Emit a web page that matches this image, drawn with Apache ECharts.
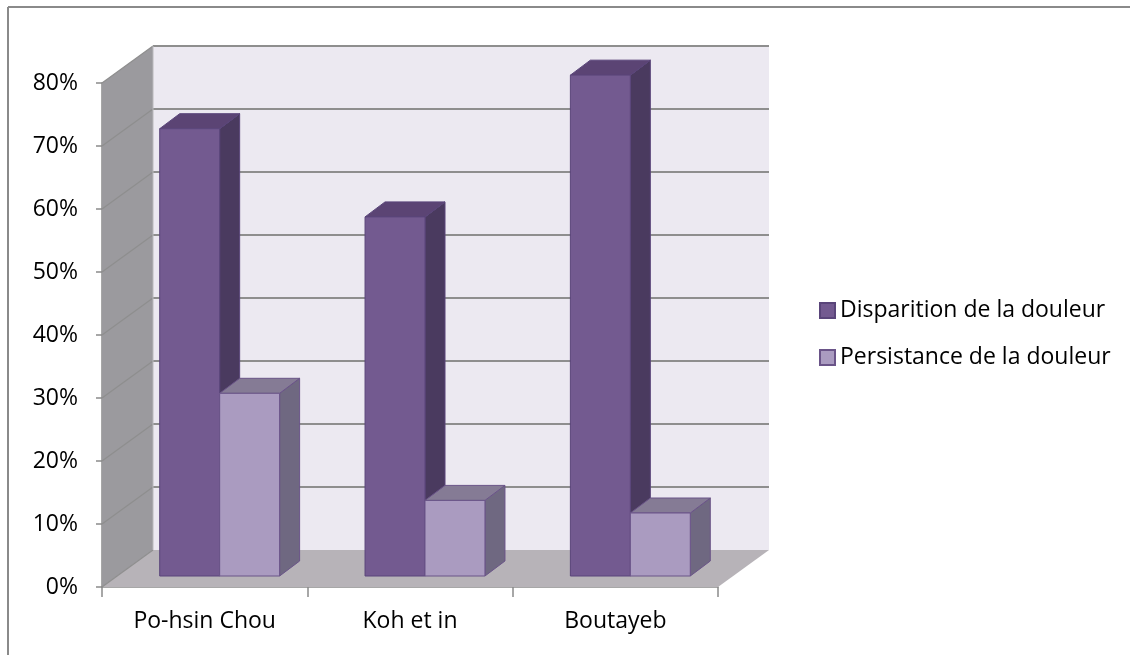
<!DOCTYPE html>
<html>
<head>
<meta charset="utf-8">
<script src="https://cdn.jsdelivr.net/npm/echarts@6/dist/echarts.min.js"></script>
<style>
  html, body { margin: 0; padding: 0; background: #ffffff; }
  #chart { width: 1130px; height: 655px; }
</style>
</head>
<body>
<div id="chart"></div>
<script>
// Study names along the category axis
const categories = ['Po-hsin Chou', 'Koh et in', 'Boutayeb'];
// Share of patients whose pain disappeared / persisted
const disparition = [0.71, 0.57, 0.795];
const persistance = [0.29, 0.12, 0.10];
const seriesNames = ['Disparition de la douleur', 'Persistance de la douleur'];
// Value ticks of the vertical axis
const yTicks = [0, 0.1, 0.2, 0.3, 0.4, 0.5, 0.6, 0.7, 0.8];

// Oblique projection offsets (pixels) for the pseudo-3D box
const DEPTH = [51, -37];      // front plane -> back wall
const BAR_FRONT = [15, -11];  // front plane -> bar front faces
const BAR_DEPTH = [20, -15];  // bar thickness in depth
const BAR_FRAC = 0.292;       // bar width as fraction of a category

const palette = {
  wall: '#ECE9F1',
  grid: '#8E8E8E',
  side: '#9B9A9E',
  floor: '#B7B3B8',
  dark: { front: '#735A90', top: '#5B4474', side: '#4A3A5F', line: '#5A457A' },
  light: { front: '#AA9BC0', top: '#857B95', side: '#6F6881', line: '#6A5488' }
};

function poly(points, fill, stroke) {
  return {
    type: 'polygon',
    shape: { points: points },
    style: { fill: fill, stroke: stroke || null, lineWidth: stroke ? 1 : 0 }
  };
}

// Back wall, left wall, floor and their gridlines
function renderBox(params, api) {
  const cs = params.coordSys;
  const xl = cs.x, xr = cs.x + cs.width;
  const dx = DEPTH[0], dy = DEPTH[1];
  const yOf = v => api.coord([0, v])[1];
  const y0 = yOf(0), yTop = yOf(yTicks[yTicks.length - 1]);
  const children = [];
  children.push(poly([[xl + dx, yTop + dy], [xr + dx, yTop + dy], [xr + dx, y0 + dy], [xl + dx, y0 + dy]], palette.wall));
  children.push(poly([[xl, yTop], [xl + dx, yTop + dy], [xl + dx, y0 + dy], [xl, y0]], palette.side));
  children.push(poly([[xl, y0], [xl + dx, y0 + dy], [xr + dx, y0 + dy], [xr, y0]], palette.floor));
  yTicks.forEach(function (t) {
    const y = yOf(t);
    if (t > 0) {
      children.push({
        type: 'line',
        shape: { x1: xl + dx, y1: y + dy, x2: xr + dx, y2: y + dy },
        style: { stroke: palette.grid, lineWidth: 2 }
      });
    }
    children.push({
      type: 'line',
      shape: { x1: xl, y1: y, x2: xl + dx, y2: y + dy },
      style: { stroke: palette.grid, lineWidth: 1.2 }
    });
  });
  // vertical edge where left wall meets back wall
  children.push({
    type: 'line',
    shape: { x1: xl + dx, y1: yTop + dy, x2: xl + dx, y2: y0 + dy },
    style: { stroke: '#B9B9BC', lineWidth: 1 }
  });
  return { type: 'group', children: children };
}

// Pseudo-3D bar: front face, top cap and right side
function barRenderer(slot, col) {
  return function (params, api) {
    const ci = api.value(0), v = api.value(1);
    const base = api.coord([ci, 0]);
    const top = api.coord([ci, v]);
    const cw = api.size([1, 0])[0];
    const bw = cw * BAR_FRAC;
    const x0 = base[0] - bw + slot * bw + BAR_FRONT[0];
    const yb = base[1] + BAR_FRONT[1];
    const yt = top[1] + BAR_FRONT[1];
    const ddx = BAR_DEPTH[0], ddy = BAR_DEPTH[1];
    return {
      type: 'group',
      children: [
        poly([[x0 + bw, yt], [x0 + bw + ddx, yt + ddy], [x0 + bw + ddx, yb + ddy], [x0 + bw, yb]], col.side, col.line),
        poly([[x0, yt], [x0 + ddx, yt + ddy], [x0 + bw + ddx, yt + ddy], [x0 + bw, yt]], col.top, col.line),
        poly([[x0, yt], [x0 + bw, yt], [x0 + bw, yb], [x0, yb]], col.front, col.line)
      ]
    };
  };
}

const chart = echarts.init(document.getElementById('chart'));
const font = '"Open Sans", Lato, sans-serif';

chart.setOption({
  animation: false,
  backgroundColor: '#ffffff',
  graphic: [
    { type: 'line', shape: { x1: 8, y1: 7, x2: 1130, y2: 7 }, style: { stroke: '#8A8A8A', lineWidth: 2 }, z: 100 },
    { type: 'line', shape: { x1: 8, y1: 7, x2: 8, y2: 655 }, style: { stroke: '#8A8A8A', lineWidth: 2 }, z: 100 }
  ],
  grid: { left: 102, top: 83, right: 412, bottom: 68, containLabel: false },
  legend: {
    orient: 'vertical',
    left: 814,
    top: 294,
    data: seriesNames,
    itemWidth: 15,
    itemHeight: 15,
    itemGap: 24,
    icon: 'rect',
    textStyle: { fontFamily: font, fontSize: 23, color: '#000000' },
    selectedMode: false
  },
  xAxis: {
    type: 'category',
    data: categories,
    axisLine: { show: true, lineStyle: { color: '#8A8A8A', width: 1.5 } },
    axisTick: { show: true, length: 10, lineStyle: { color: '#8A8A8A', width: 1.5 } },
    axisLabel: { fontFamily: font, fontSize: 23, color: '#000000', margin: 23 },
    splitLine: { show: false }
  },
  yAxis: {
    type: 'value',
    min: 0,
    max: 0.8,
    interval: 0.1,
    axisLine: { show: true, lineStyle: { color: '#8A8A8A', width: 1.5 } },
    axisTick: { show: true, length: 6, lineStyle: { color: '#8A8A8A', width: 1.5 } },
    axisLabel: {
      fontFamily: font, fontSize: 23, color: '#000000', margin: 24,
      formatter: v => Math.round(v * 100) + '%'
    },
    splitLine: { show: false }
  },
  series: [
    {
      name: 'box',
      type: 'custom',
      silent: true,
      z: 1,
      renderItem: renderBox,
      data: [[0, 0]]
    },
    {
      name: seriesNames[0],
      type: 'custom',
      z: 2,
      itemStyle: { color: palette.dark.front, borderColor: palette.dark.line, borderWidth: 1 },
      renderItem: barRenderer(0, palette.dark),
      encode: { x: 0, y: 1 },
      data: disparition.map((v, i) => [i, v])
    },
    {
      name: seriesNames[1],
      type: 'custom',
      z: 3,
      itemStyle: { color: palette.light.front, borderColor: palette.light.line, borderWidth: 1 },
      renderItem: barRenderer(1, palette.light),
      encode: { x: 0, y: 1 },
      data: persistance.map((v, i) => [i, v])
    }
  ]
});
</script>
</body>
</html>
